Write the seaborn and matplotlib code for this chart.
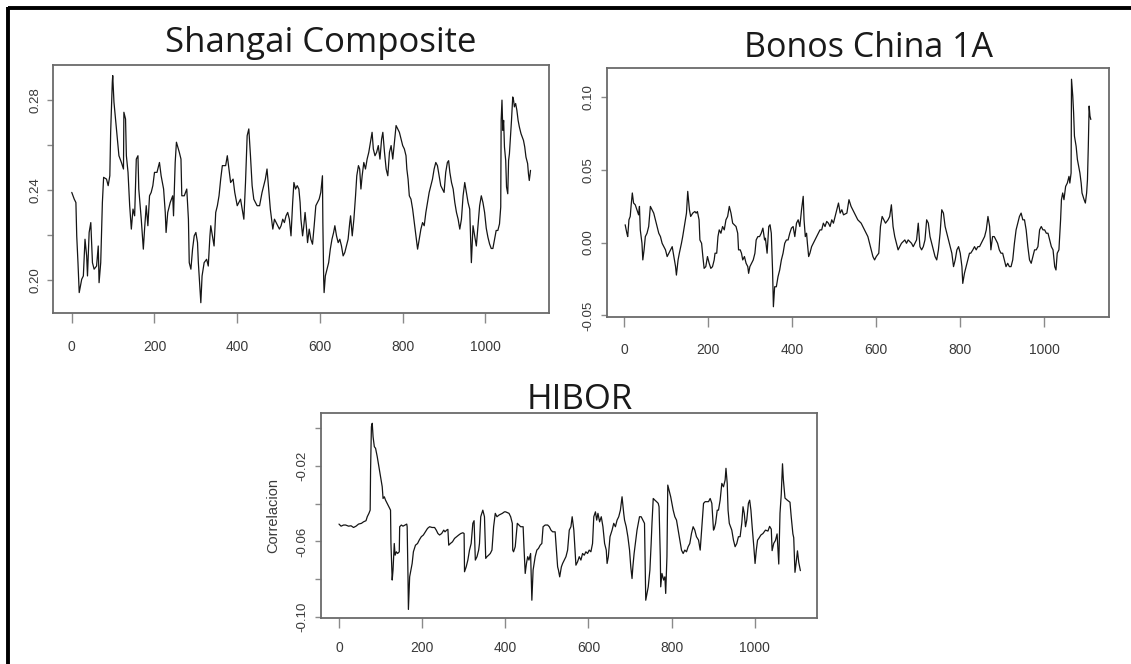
import matplotlib
matplotlib.use("Agg")
import matplotlib.pyplot as plt
from matplotlib.lines import Line2D
import seaborn as sns
import pandas as pd

# ---------------- data ----------------
titles = ["Shangai Composite", "Bonos China 1A", "HIBOR"]
y_axis_label = "Correlacion"

shanghai_x = [0, 3, 6, 10, 12, 15, 18, 24, 28, 32, 36, 38, 42, 46, 50, 54, 60, 64, 66, 70,
              74, 77, 84, 88, 92, 94, 98, 99, 102, 108, 114, 120, 125, 126, 130, 132, 136, 140, 144, 148,
              152, 156, 160, 162, 168, 173, 176, 180, 184, 188, 192, 196, 200, 206, 212, 216, 222, 226, 228, 232,
              238, 244, 246, 250, 253, 260, 264, 266, 272, 278, 282, 284, 288, 292, 296, 300, 304, 306, 310, 312,
              315, 320, 326, 330, 334, 336, 340, 344, 348, 352, 356, 360, 364, 372, 376, 380, 384, 390, 394, 400,
              408, 416, 420, 424, 428, 432, 436, 440, 448, 454, 460, 468, 472, 476, 480, 486,
              490, 494, 498, 502, 506, 510, 514, 518, 522, 526, 530, 534, 537, 541, 545, 549, 552, 554, 558, 561,
              564, 567, 570, 574, 578, 582, 586, 590, 594, 598, 602, 606, 607, 609, 610, 613, 617, 621, 625, 629,
              633, 636, 640, 644, 648, 652, 656, 660, 664, 668, 672, 674, 678, 682, 686, 689, 693, 696, 699, 702,
              706, 710, 714, 718, 722, 726, 729, 733, 737, 741, 745, 749, 752, 756, 760, 764, 768, 772, 776, 780,
              784, 788, 792, 796, 800, 804, 808, 810, 813, 816, 820, 824, 828, 832, 836, 840, 844, 848, 852, 856,
              860, 864, 868, 872, 876, 880, 884, 888, 892, 896, 900, 904, 908, 911, 914, 918, 922, 926, 930, 934,
              938, 942, 946, 950, 954, 958, 962, 966, 970, 974, 978, 982, 986, 990, 994, 998, 1002, 1006, 1010, 1014,
              1018, 1022, 1026, 1030, 1034, 1037, 1038, 1040, 1042, 1044, 1046, 1049, 1051, 1054, 1056, 1058, 1061, 1063, 1066, 1068,
              1070, 1073, 1076, 1079, 1082, 1086, 1089, 1092, 1095, 1098, 1102, 1104, 1106, 1109]
shanghai_y = [0.2389, 0.2374, 0.2359, 0.2344, 0.2196, 0.2077, 0.1944, 0.2003, 0.2018, 0.2181, 0.2107, 0.2018, 0.2211, 0.2255, 0.2077, 0.2048, 0.2062, 0.2151, 0.1988, 0.2077,
              0.2344, 0.2456, 0.2448, 0.2419, 0.2463, 0.2656, 0.2879, 0.2908, 0.2790, 0.2671, 0.2552, 0.2522, 0.2493, 0.2745, 0.2715, 0.2552, 0.2478, 0.2330, 0.2226, 0.2315,
              0.2285, 0.2537, 0.2552, 0.2404, 0.2270, 0.2137, 0.2226, 0.2330, 0.2241, 0.2374, 0.2389, 0.2419, 0.2478, 0.2478, 0.2522, 0.2463, 0.2404, 0.2300, 0.2211, 0.2300,
              0.2344, 0.2374, 0.2285, 0.2522, 0.2612, 0.2567, 0.2537, 0.2374, 0.2374, 0.2404, 0.2270, 0.2077, 0.2048, 0.2137, 0.2196, 0.2211, 0.2166, 0.2077, 0.1959, 0.1899,
              0.2018, 0.2077, 0.2092, 0.2062, 0.2196, 0.2241, 0.2196, 0.2151, 0.2300, 0.2330, 0.2374, 0.2448, 0.2508, 0.2508, 0.2552, 0.2493, 0.2433, 0.2448, 0.2389, 0.2330,
              0.2359, 0.2270, 0.2433, 0.2641, 0.2671, 0.2552, 0.2419, 0.2359, 0.2330, 0.2330, 0.2389, 0.2448, 0.2493, 0.2404, 0.2315, 0.2226,
              0.2270, 0.2255, 0.2241, 0.2226, 0.2241, 0.2270, 0.2255, 0.2285, 0.2300, 0.2270, 0.2196, 0.2344, 0.2433, 0.2404, 0.2419, 0.2404, 0.2344, 0.2270, 0.2196, 0.2241,
              0.2300, 0.2241, 0.2166, 0.2226, 0.2181, 0.2159, 0.2241, 0.2330, 0.2344, 0.2359, 0.2389, 0.2463, 0.2255, 0.2003, 0.1944, 0.2018, 0.2048, 0.2077, 0.2137, 0.2181,
              0.2211, 0.2241, 0.2196, 0.2166, 0.2181, 0.2151, 0.2107, 0.2122, 0.2151, 0.2181, 0.2255, 0.2285, 0.2196, 0.2270, 0.2374, 0.2463, 0.2508, 0.2493, 0.2404, 0.2463,
              0.2522, 0.2493, 0.2537, 0.2567, 0.2612, 0.2656, 0.2582, 0.2552, 0.2567, 0.2597, 0.2537, 0.2626, 0.2656, 0.2567, 0.2493, 0.2463, 0.2567, 0.2597, 0.2537, 0.2612,
              0.2686, 0.2671, 0.2656, 0.2626, 0.2597, 0.2582, 0.2552, 0.2493, 0.2448, 0.2374, 0.2359, 0.2315, 0.2255, 0.2196, 0.2137, 0.2181, 0.2226, 0.2255, 0.2241, 0.2300,
              0.2344, 0.2389, 0.2419, 0.2448, 0.2493, 0.2522, 0.2508, 0.2463, 0.2419, 0.2404, 0.2389, 0.2478, 0.2522, 0.2530, 0.2478, 0.2433, 0.2404, 0.2344, 0.2300, 0.2270,
              0.2226, 0.2270, 0.2374, 0.2433, 0.2389, 0.2344, 0.2315, 0.2077, 0.2241, 0.2196, 0.2151, 0.2241, 0.2330, 0.2374, 0.2344, 0.2300, 0.2230, 0.2190, 0.2160, 0.2140,
              0.2140, 0.2180, 0.2220, 0.2220, 0.2249, 0.2324, 0.2709, 0.2799, 0.2665, 0.2709, 0.2591, 0.2531, 0.2413, 0.2383, 0.2531, 0.2561, 0.2650, 0.2709, 0.2813, 0.2799,
              0.2769, 0.2784, 0.2754, 0.2709, 0.2680, 0.2650, 0.2635, 0.2620, 0.2591, 0.2546, 0.2517, 0.2472, 0.2442, 0.2487]

bonos_x = [2, 6, 8, 11, 14, 16, 19, 22, 26, 30, 34, 36, 38, 42, 44, 47, 50, 54, 58, 62,
           66, 70, 74, 78, 82, 86, 90, 94, 98, 102, 106, 110, 114, 118, 122, 124, 128, 131, 136, 139,
           144, 148, 151, 155, 158, 163, 168, 171, 174, 178, 180, 184, 187, 190, 194, 198, 202, 206, 210, 214,
           216, 220, 223, 226, 230, 234, 238, 242, 246, 250, 254, 258, 262, 266, 270, 272, 276, 279, 282, 286,
           290, 294, 296, 299, 303, 307, 311, 314, 318, 322, 326, 330, 334, 336, 340, 344, 347, 350, 353, 355,
           358, 362, 366, 370, 374, 378, 382, 386, 390, 394, 398, 402, 406, 410, 414, 418, 422, 426, 428, 431,
           434, 436, 439, 442, 446, 450, 454, 458, 462, 466, 470, 474, 478, 482, 486, 490, 494, 498, 502, 506,
           510, 514, 518, 522, 530, 535, 540, 548, 556, 564, 572, 580, 584, 588, 592, 596, 600, 606, 610, 614,
           618, 622, 628, 632, 636, 640, 644, 648, 652, 656, 660, 664, 668, 672, 676, 680, 684, 688, 692, 696,
           700, 704, 708, 712, 716, 720, 724, 728, 732, 736, 740, 744, 748, 752, 756, 760, 764, 768, 772, 776,
           780, 784, 788, 792, 796, 800, 804, 806, 810, 814, 818, 822, 825, 830, 834, 838, 842, 846, 850, 854,
           858, 862, 866, 870, 873, 877, 881, 885, 889, 893, 897, 901, 905, 909, 913, 917, 921, 925, 929, 933,
           937, 941, 945, 949, 953, 957, 961, 965, 969, 973, 977, 981, 985, 989, 993, 997, 1001, 1005, 1009, 1013,
           1017, 1021, 1025, 1028, 1031, 1035, 1039, 1041, 1044, 1047, 1051, 1055, 1059, 1061, 1064, 1065, 1068, 1070, 1072, 1076,
           1079, 1082, 1085, 1088, 1090, 1095, 1098, 1101, 1103, 1105, 1107, 1109, 1111]
bonos_y = [0.0122, 0.0064, 0.0041, 0.0156, 0.0179, 0.0248, 0.0340, 0.0271, 0.0259, 0.0225, 0.0190, 0.0248, 0.0087, -0.0005, -0.0119, -0.0050, 0.0041, 0.0064, 0.0110, 0.0248,
           0.0225, 0.0202, 0.0156, 0.0110, 0.0064, 0.0041, -0.0005, -0.0028, -0.0050, -0.0096, -0.0073, -0.0050, -0.0028, -0.0096, -0.0165, -0.0223, -0.0119, -0.0073, -0.0005, 0.0041,
           0.0133, 0.0202, 0.0351, 0.0225, 0.0179, 0.0202, 0.0213, 0.0202, 0.0213, 0.0156, 0.0018, -0.0005, -0.0096, -0.0177, -0.0165, -0.0096, -0.0142, -0.0177, -0.0165, -0.0119,
           -0.0073, -0.0073, 0.0041, 0.0087, 0.0064, 0.0110, 0.0087, 0.0156, 0.0179, 0.0248, 0.0202, 0.0133, 0.0122, 0.0110, 0.0064, -0.0050, -0.0050, -0.0073, -0.0119, -0.0096,
           -0.0142, -0.0165, -0.0211, -0.0165, -0.0142, -0.0119, -0.0073, 0.0018, 0.0041, 0.0041, 0.0064, 0.0099, 0.0018, 0.0030, -0.0073, 0.0110, 0.0122, 0.0064, -0.0188, -0.0440,
           -0.0303, -0.0303, -0.0234, -0.0188, -0.0119, -0.0073, -0.0005, 0.0018, 0.0018, 0.0064, 0.0099, 0.0110, 0.0041, 0.0133, 0.0156, 0.0110, 0.0225, 0.0317, 0.0156, 0.0041,
           0.0064, -0.0005, -0.0096, -0.0073, -0.0028, -0.0005, 0.0018, 0.0041, 0.0064, 0.0087, 0.0087, 0.0133, 0.0110, 0.0145, 0.0133, 0.0110, 0.0156, 0.0133, 0.0179, 0.0225,
           0.0271, 0.0202, 0.0225, 0.0190, 0.0202, 0.0294, 0.0248, 0.0202, 0.0156, 0.0133, 0.0087, 0.0041, -0.0005, -0.0050, -0.0096, -0.0119, -0.0096, -0.0073, 0.0110, 0.0179,
           0.0156, 0.0133, 0.0156, 0.0179, 0.0259, 0.0110, 0.0041, -0.0005, -0.0050, -0.0028, -0.0005, 0.0007, 0.0018, -0.0005, 0.0018, 0.0007, -0.0005, -0.0028, -0.0005, 0.0018,
           0.0133, -0.0028, -0.0050, -0.0028, 0.0018, 0.0156, 0.0133, 0.0041, -0.0005, -0.0050, -0.0096, -0.0119, -0.0050, 0.0064, 0.0225, 0.0202, 0.0110, 0.0064, 0.0018, -0.0028,
           -0.0073, -0.0165, -0.0119, -0.0050, -0.0028, -0.0073, -0.0165, -0.0280, -0.0211, -0.0165, -0.0119, -0.0073, -0.0073, -0.0050, -0.0028, -0.0050, -0.0028, -0.0028, -0.0005, 0.0018,
           0.0041, 0.0087, 0.0179, 0.0110, -0.0050, 0.0041, 0.0041, 0.0018, -0.0005, -0.0050, -0.0073, -0.0073, -0.0119, -0.0165, -0.0142, -0.0165, -0.0165, -0.0119, -0.0005, 0.0087,
           0.0133, 0.0179, 0.0202, 0.0156, 0.0156, 0.0087, -0.0028, -0.0119, -0.0142, -0.0096, -0.0050, -0.0050, -0.0028, 0.0087, 0.0110, 0.0087, 0.0087, 0.0064, 0.0064, 0.0018,
           -0.0028, -0.0050, -0.0165, -0.0188, -0.0073, -0.0050, 0.0156, 0.0294, 0.0340, 0.0294, 0.0385, 0.0408, 0.0454, 0.0408, 0.0477, 0.1120, 0.1005, 0.0890, 0.0730, 0.0660,
           0.0570, 0.0523, 0.0477, 0.0408, 0.0340, 0.0294, 0.0271, 0.0340, 0.0431, 0.0660, 0.0936, 0.0867, 0.0844]

hibor_x = [0, 5, 11, 16, 23, 29, 35, 41, 47, 54, 59, 65, 68, 72, 75, 76, 78, 80, 82, 85,
           88, 92, 96, 100, 104, 106, 109, 112, 116, 120, 124, 125, 128, 130, 133, 135, 138, 141, 145, 146,
           150, 154, 159, 163, 164, 166, 167, 170, 173, 176, 179, 184, 189, 193, 198, 203, 208, 213, 218, 224,
           230, 234, 238, 242, 247, 252, 255, 259, 262, 264, 268, 273, 278, 283, 288, 293, 298, 301, 302, 306,
           310, 314, 318, 322, 325, 328, 332, 336, 338, 341, 346, 350, 353, 356, 360, 364, 368, 372, 376, 380,
           385, 393, 398, 401, 409, 413, 417, 418, 420, 424, 429, 433, 437, 443, 445, 448, 451, 454, 457, 461,
           464, 467, 472, 476, 480, 484, 488, 491, 496, 502, 506, 510, 514, 520, 523, 526, 528, 531, 535, 538,
           542, 546, 550, 554, 558, 561, 565, 568, 570, 574, 578, 582, 586, 590, 594, 598, 602, 606, 610, 613,
           617, 620, 623, 627, 631, 635, 639, 643, 645, 648, 652, 657, 661, 665, 669, 673, 677, 681, 685, 687,
           691, 695, 699, 702, 705, 707, 710, 714, 717, 720, 723, 727, 731, 735, 738, 741, 744, 748, 751, 753,
           756, 760, 764, 768, 770, 773, 774, 777, 781, 784, 786, 789, 791, 794, 798, 801, 804, 808, 812, 816,
           820, 824, 828, 832, 836, 840, 844, 848, 852, 856, 860, 865, 869, 873, 877, 881, 885, 889, 893, 897,
           901, 903, 906, 910, 913, 917, 921, 925, 929, 931, 934, 936, 939, 942, 945, 949, 953, 957, 961, 965,
           969, 972, 975, 978, 981, 985, 988, 991, 994, 998, 1001, 1004, 1007, 1010, 1015, 1020, 1026, 1032, 1036, 1040,
           1042, 1046, 1050, 1054, 1058, 1061, 1064, 1067, 1069, 1073, 1078, 1085, 1088, 1092, 1094, 1097, 1100, 1103, 1106, 1110]
hibor_y = [-0.0508, -0.0519, -0.0513, -0.0513, -0.0519, -0.0517, -0.0526, -0.0519, -0.0508, -0.0504, -0.0496, -0.0490, -0.0469, -0.0451, -0.0434, -0.0221, 0.0009, 0.0027, -0.0044, -0.0097,
           -0.0106, -0.0150, -0.0204, -0.0257, -0.0310, -0.0372, -0.0363, -0.0381, -0.0398, -0.0416, -0.0434, -0.0611, -0.0805, -0.0752, -0.0611, -0.0673, -0.0655, -0.0664, -0.0655, -0.0522,
           -0.0513, -0.0519, -0.0513, -0.0508, -0.0522, -0.0788, -0.0961, -0.0788, -0.0752, -0.0717, -0.0655, -0.0620, -0.0611, -0.0593, -0.0575, -0.0566, -0.0549, -0.0531, -0.0522, -0.0526,
           -0.0526, -0.0540, -0.0558, -0.0566, -0.0558, -0.0540, -0.0549, -0.0540, -0.0536, -0.0620, -0.0611, -0.0602, -0.0584, -0.0575, -0.0566, -0.0558, -0.0554, -0.0558, -0.0761, -0.0735,
           -0.0699, -0.0646, -0.0611, -0.0504, -0.0490, -0.0699, -0.0681, -0.0646, -0.0611, -0.0469, -0.0434, -0.0469, -0.0690, -0.0681, -0.0673, -0.0664, -0.0646, -0.0522, -0.0451, -0.0469,
           -0.0460, -0.0451, -0.0443, -0.0443, -0.0451, -0.0469, -0.0504, -0.0646, -0.0655, -0.0628, -0.0504, -0.0513, -0.0522, -0.0522, -0.0628, -0.0770, -0.0717, -0.0681, -0.0699, -0.0664,
           -0.0912, -0.0752, -0.0681, -0.0646, -0.0637, -0.0620, -0.0611, -0.0522, -0.0513, -0.0513, -0.0522, -0.0540, -0.0549, -0.0549, -0.0646, -0.0735, -0.0752, -0.0788, -0.0735, -0.0717,
           -0.0699, -0.0681, -0.0646, -0.0540, -0.0522, -0.0469, -0.0540, -0.0646, -0.0726, -0.0708, -0.0681, -0.0699, -0.0664, -0.0673, -0.0655, -0.0664, -0.0646, -0.0655, -0.0611, -0.0469,
           -0.0443, -0.0487, -0.0451, -0.0496, -0.0469, -0.0522, -0.0611, -0.0646, -0.0717, -0.0681, -0.0575, -0.0540, -0.0504, -0.0522, -0.0487, -0.0469, -0.0434, -0.0363, -0.0451, -0.0487,
           -0.0522, -0.0575, -0.0646, -0.0735, -0.0797, -0.0735, -0.0664, -0.0593, -0.0540, -0.0504, -0.0469, -0.0469, -0.0487, -0.0504, -0.0912, -0.0876, -0.0841, -0.0752, -0.0611, -0.0504,
           -0.0372, -0.0381, -0.0389, -0.0398, -0.0416, -0.0681, -0.0841, -0.0770, -0.0805, -0.0788, -0.0876, -0.0681, -0.0301, -0.0327, -0.0363, -0.0398, -0.0434, -0.0469, -0.0487, -0.0540,
           -0.0593, -0.0646, -0.0664, -0.0646, -0.0655, -0.0628, -0.0611, -0.0558, -0.0522, -0.0540, -0.0575, -0.0593, -0.0646, -0.0522, -0.0398, -0.0389, -0.0389, -0.0389, -0.0372, -0.0398,
           -0.0540, -0.0531, -0.0504, -0.0434, -0.0434, -0.0381, -0.0292, -0.0310, -0.0274, -0.0212, -0.0292, -0.0434, -0.0504, -0.0522, -0.0540, -0.0593, -0.0628, -0.0611, -0.0575, -0.0575,
           -0.0504, -0.0416, -0.0451, -0.0522, -0.0487, -0.0398, -0.0381, -0.0434, -0.0522, -0.0628, -0.0717, -0.0646, -0.0593, -0.0584, -0.0566, -0.0558, -0.0540, -0.0545, -0.0520, -0.0535,
           -0.0649, -0.0610, -0.0595, -0.0560, -0.0720, -0.0450, -0.0350, -0.0188, -0.0270, -0.0370, -0.0380, -0.0392, -0.0470, -0.0560, -0.0580, -0.0764, -0.0710, -0.0650, -0.0710, -0.0755]

x_ticks = [0, 200, 400, 600, 800, 1000]
shanghai_yticks = [0.20, 0.22, 0.24, 0.26, 0.28]
shanghai_ylabels = ["0.20", "", "0.24", "", "0.28"]
bonos_yticks = [-0.05, 0.00, 0.05, 0.10]
bonos_ylabels = ["-0.05", "0.00", "0.05", "0.10"]
hibor_yticks = [-0.10, -0.08, -0.06, -0.04, -0.02, 0.00]
hibor_ylabels = ["-0.10", "", "-0.06", "", "-0.02", ""]

# ---------------- style ----------------
W, H = 1131, 664
sns.set_theme(style="white")
plt.rcParams["font.family"] = ["Liberation Sans", "DejaVu Sans"]

fig = plt.figure(figsize=(W / 100, H / 100), dpi=100)
fig.patch.set_facecolor("white")

LINE = "#151515"
SPINE = "#6a6a6a"
TICK = "#8a8a8a"
LABEL = "#3a3a3a"
NARROW = ["Liberation Sans Narrow", "DejaVu Sans Condensed", "Liberation Sans"]


def px_rect(l, t, r, b):
    return [l / W, 1 - b / H, (r - l) / W, (b - t) / H]


def make_panel(rect, xs, ys, xlim, ylim, yticks, ylabels, xlab_size, xpad):
    ax = fig.add_axes(rect)
    df = pd.DataFrame({"t": xs, "v": ys})
    sns.lineplot(data=df, x="t", y="v", ax=ax, color=LINE, linewidth=0.9,
                 estimator=None, sort=False)
    ax.set_xlim(*xlim)
    ax.set_ylim(*ylim)
    ax.set_xlabel("")
    ax.set_ylabel("")
    for s in ax.spines.values():
        s.set_color(SPINE)
        s.set_linewidth(1.3)
    ax.set_xticks(x_ticks)
    ax.set_xticklabels([str(v) for v in x_ticks], fontfamily=NARROW,
                       fontsize=xlab_size, color=LABEL)
    ax.set_yticks(yticks)
    ax.set_yticklabels(ylabels, fontsize=9.5, color=LABEL, rotation=90)
    for lab in ax.get_yticklabels():
        lab.set_va("center")
    ax.tick_params(axis="x", direction="out", length=7.2, width=1.0, color=TICK,
                   pad=xpad, bottom=True)
    ax.tick_params(axis="y", direction="out", length=4.3, width=1.0, color=TICK,
                   pad=4.5, left=True)
    ax.grid(False)
    return ax


ax1 = make_panel(px_rect(53.4, 65, 549.3, 313.3), shanghai_x, shanghai_y,
                 (-44.4, 1154.4), (0.1852, 0.2955),
                 shanghai_yticks, shanghai_ylabels, 10, 12)
ax2 = make_panel(px_rect(606.7, 68.3, 1109.3, 316.5), bonos_x, bonos_y,
                 (-42, 1155), (-0.0507, 0.1195),
                 bonos_yticks, bonos_ylabels, 10, 12)
ax3 = make_panel(px_rect(320.7, 413.3, 817.0, 618.3), hibor_x, hibor_y,
                 (-44, 1150), (-0.1008, 0.008),
                 hibor_yticks, hibor_ylabels, 10, 9.0)
ax3.set_ylabel(y_axis_label, fontsize=10.5, color=LABEL)
ax3.yaxis.label.set_va("center")
ax3.yaxis.set_label_coords(-0.0955, 0.5)

# panel titles (typed over the plots in the reference)
fig.text(321 / W, 1 - 51.7 / H, titles[0], ha="center", va="baseline",
         fontfamily="Open Sans", fontsize=25, color="#1a1a1a")
fig.text(868 / W, 1 - 56.7 / H, titles[1], ha="center", va="baseline",
         fontfamily="Open Sans", fontsize=24.5, color="#1a1a1a")
fig.text(580 / W, 1 - 409.3 / H, titles[2], ha="center", va="baseline",
         fontfamily="Open Sans", fontsize=25, color="#1a1a1a")

# outer frame (top and left edges only)
fig.add_artist(Line2D([7.5 / W, 1.0], [1 - 8 / H, 1 - 8 / H], transform=fig.transFigure,
                      color="black", linewidth=2.8, solid_capstyle="butt"))
fig.add_artist(Line2D([7.5 / W, 7.5 / W], [1 - 6.5 / H, 0.0], transform=fig.transFigure,
                      color="black", linewidth=2.8, solid_capstyle="butt"))

fig.savefig("out.png", dpi=100, facecolor="white")
